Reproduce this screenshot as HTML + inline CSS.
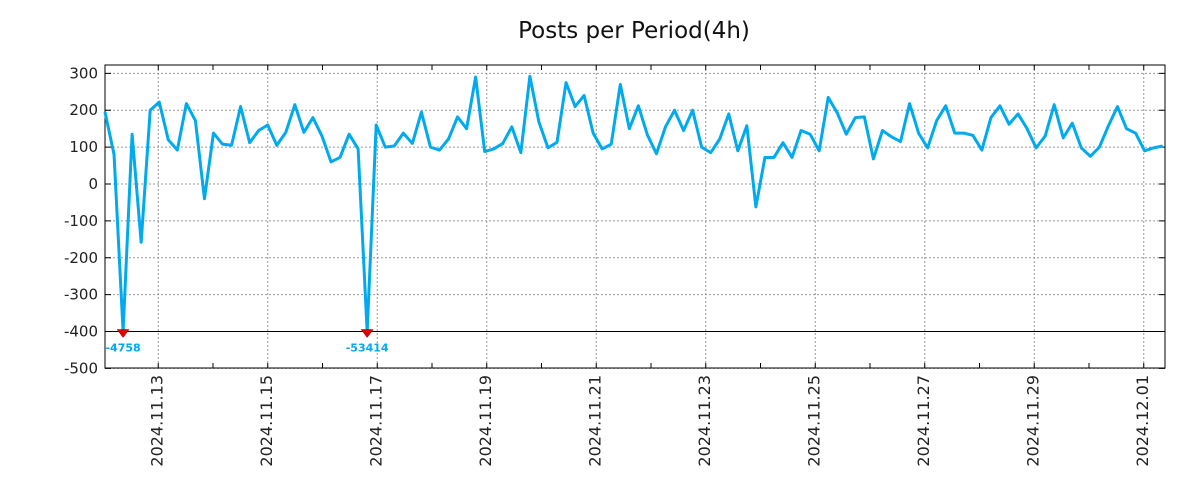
<!DOCTYPE html>
<html><head><meta charset="utf-8"><style>
body{margin:0;background:#fff;}
svg{display:block;font-family:"DejaVu Sans","Liberation Sans",sans-serif;}
</style></head><body>
<svg id="chart" width="1200" height="500">
<text x="634" y="38" text-anchor="middle" font-size="23" fill="#111">Posts per Period(4h)</text>
<g id="grid"></g><g id="axes"></g><g id="series"></g>
</svg>
<script>
const values=[195,80,-4758,135,-158,200,222,120,92,218,172,-40,138,108,105,210,112,145,160,105,140,215,140,180,130,60,72,135,95,-53414,160,100,103,138,110,195,100,92,122,182,150,290,88,95,110,155,85,292,168,98,113,275,210,240,138,95,108,270,150,212,133,82,155,200,145,200,100,85,122,190,90,158,-62,72,72,112,72,145,135,90,235,193,135,180,182,68,145,128,115,218,138,98,172,212,138,138,132,92,180,212,162,190,150,98,130,215,125,165,98,75,100,158,210,150,138,90,98,103];
const yTicks=[300,200,100,0,-100,-200,-300,-400,-500];
const xTickLabels=["2024.11.13","2024.11.15","2024.11.17","2024.11.19","2024.11.21","2024.11.23","2024.11.25","2024.11.27","2024.11.29","2024.12.01"];
const xTickDayOffsets=[1,3,5,7,9,11,13,15,17,19];
const floorVal=-400;
const L=105,R=1165,T=65,B=368;
const dayPx=54.75, x0=103.5;
const ns="http://www.w3.org/2000/svg";
function y(v){return 184-(v)*0.3688;}
function xDay(d){return x0+d*dayPx;}
function xi(i){return 105+i*9.04;}
function mk(tag,attrs,parent){const e=document.createElementNS(ns,tag);for(const k in attrs)e.setAttribute(k,attrs[k]);parent.appendChild(e);return e;}
const grid=document.getElementById('grid'),axes=document.getElementById('axes'),ser=document.getElementById('series');
yTicks.forEach(v=>{
  const g=mk('line',{x1:L,x2:R,y1:y(v),y2:y(v),stroke:'#999','stroke-dasharray':'2,2'},grid);
  
  
  mk('line',{x1:L,x2:L+6,y1:y(v),y2:y(v),stroke:'#000'},axes);
  mk('line',{x1:R-6,x2:R,y1:y(v),y2:y(v),stroke:'#000'},axes);
  const t=mk('text',{x:98,y:y(v)+5,'text-anchor':'end','font-size':15,fill:'#222'},axes);
  t.textContent=v;
  
  
});
for(let d=0;d<=20;d++){const x=xDay(d);if(x<=L||x>=R)continue;
  mk('line',{x1:x,x2:x,y1:T,y2:T+5,stroke:'#000'},axes);mk('line',{x1:x,x2:x,y1:B,y2:B-5,stroke:'#000'},axes);}
xTickDayOffsets.forEach((d,k)=>{
  const x=xDay(d);
  const g=mk('line',{x1:x,x2:x,y1:T,y2:B,stroke:'#999','stroke-dasharray':'2,2'},grid);
  
  
  const t=mk('text',{x:0,y:0,'text-anchor':'end','font-size':16,fill:'#222',transform:`translate(${x+4},375) rotate(-90)`},axes);
  t.textContent=xTickLabels[k];
  
  
});
const fl=mk('line',{x1:L,x2:R,y1:y(floorVal),y2:y(floorVal),stroke:'#000'},axes);


const fr=mk('rect',{x:L,y:T,width:R-L,height:B-T,fill:'none',stroke:'#000'},axes);


const pts=values.map((v,i)=>[Math.min(xi(i),R),y(Math.max(v,floorVal))]);
const pl=mk('polyline',{points:pts.map(p=>p.join(',')).join(' '),fill:'none',stroke:'#00aaee','stroke-width':3,'stroke-linejoin':'round'},ser);


values.forEach((v,i)=>{if(v<floorVal){
  const x=xi(i),yy=y(floorVal);
  const tri=mk('polygon',{points:`${x-6},${yy-2} ${x+6},${yy-2} ${x},${yy+6}`,fill:'#e00000',stroke:'#900','stroke-width':0.5},ser);
  
  
  const t=mk('text',{x:x,y:yy+20,'text-anchor':'middle','font-size':11,'font-weight':'bold',fill:'#00aaee'},ser);
  t.textContent=v;
  
  
}});
</script>
</body></html>
